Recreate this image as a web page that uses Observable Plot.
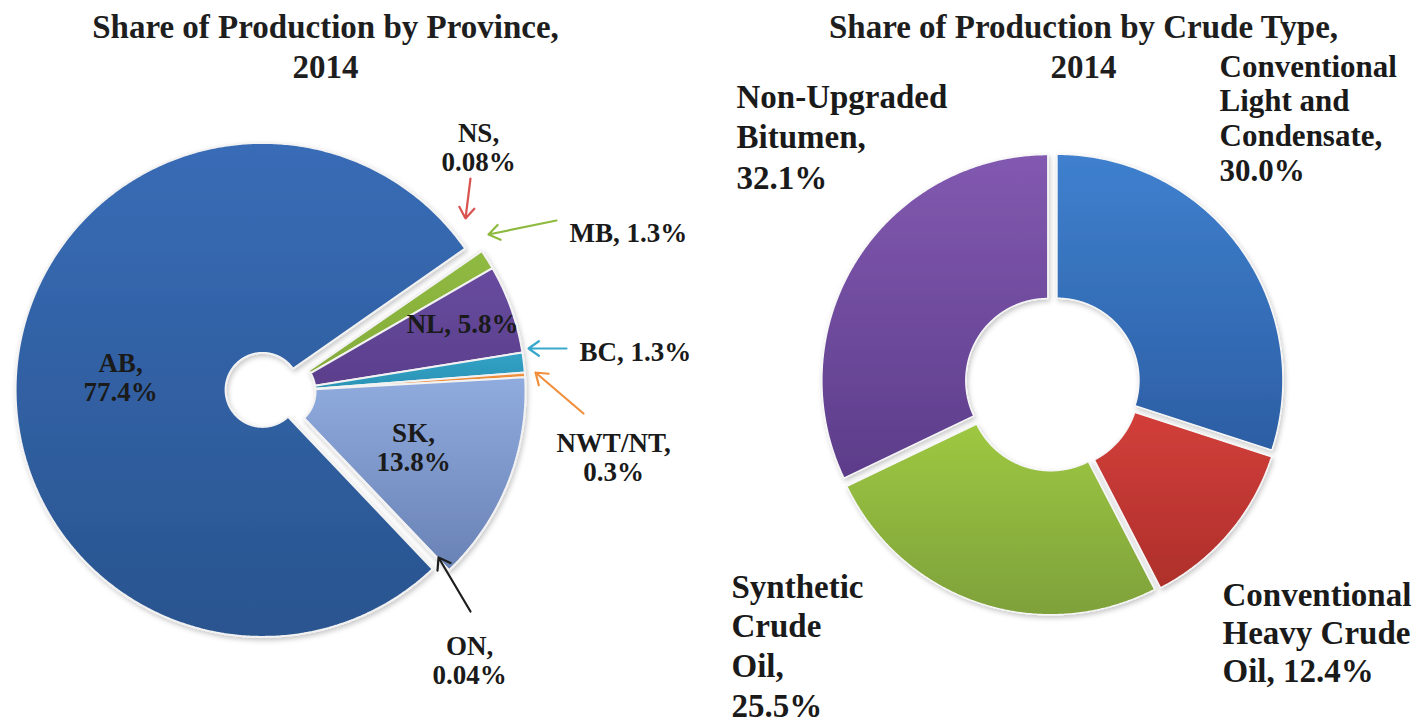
<!DOCTYPE html>
<html>
<head>
<meta charset="utf-8">
<script src="https://cdn.jsdelivr.net/npm/d3@7"></script>
<script src="https://cdn.jsdelivr.net/npm/@observablehq/plot@0.6"></script>
<style>
  body { margin: 0; background: #fff; }
  #chart svg { display: block; }
</style>
</head>
<body>
<div id="chart"></div>
<script>
// ---------------- DATA ----------------
const titles = ["Share of Production by Province,\n2014", "Share of Production by Crude Type,\n2014"];

const provinces = ["AB", "NS", "MB", "NL", "BC", "NWT/NT", "SK", "ON"];
const provinceShares = [77.4, 0.08, 1.3, 5.8, 1.3, 0.3, 13.8, 0.04];
const provinceShareLabels = ["77.4%", "0.08%", "1.3%", "5.8%", "1.3%", "0.3%", "13.8%", "0.04%"];

const crudeTypes = ["Conventional Light and Condensate", "Conventional Heavy Crude Oil", "Synthetic Crude Oil", "Non-Upgraded Bitumen"];
const crudeShares = [30.0, 12.4, 25.5, 32.1];
const crudeShareLabels = ["30.0%", "12.4%", "25.5%", "32.1%"];

// ---------------- LAYOUT / STYLE ----------------
const W = 1417, H = 724;
const FONT = "'Liberation Serif', 'Times New Roman', serif";

const leftPie = {cx: 278, cy: 391, R: 247, r: 37, start: 136.5, explode: [16, 0, 0, 0, 0, 0, 0, 0]};
const rightPie = {cx: 1052, cy: 383, R: 226, r: 82, start: 0, explode: [5.5, 5.5, 5.5, 5.5]};

const provinceColors = [
  ["#386cb6", "#29548f"], ["#c0504d", "#c0504d"], ["#8fba40", "#86ad3b"], ["#684b9f", "#5b3f8c"],
  ["#31a2c6", "#2b93b5"], ["#f0903d", "#e8852f"], ["#90abde", "#6982b6"], ["#444444", "#444444"]
];
const crudeColors = [["#3f80ce", "#2c5ea4"], ["#d23f3a", "#ae2f2b"], ["#9ec842", "#7ea13a"], ["#8259b0", "#5c3d8a"]];

// label layout: word-wrap of the name, separator before the value, anchor, position of last baseline
const provinceLabelLayout = [
  {wrap: [1], sep: "\n", x: 120, y: 400, anchor: "middle"},
  {wrap: [1], sep: "\n", x: 478, y: 170, anchor: "middle"},
  {wrap: [1], sep: " ", x: 569, y: 241, anchor: "start"},
  {wrap: [1], sep: " ", x: 462, y: 332, anchor: "middle"},
  {wrap: [1], sep: " ", x: 579, y: 360, anchor: "start"},
  {wrap: [1], sep: "\n", x: 613, y: 480, anchor: "middle"},
  {wrap: [1], sep: "\n", x: 413, y: 470, anchor: "middle"},
  {wrap: [1], sep: "\n", x: 469, y: 683, anchor: "middle"}
];
const crudeLabelLayout = [
  {wrap: [1, 2, 1], sep: "\n", x: 1219, y: 180, size: 31, lh: 1.115},
  {wrap: [1, 2, 1], sep: " ", x: 1222, y: 681, size: 33, lh: 1.15},
  {wrap: [1, 1, 1], sep: "\n", x: 731, y: 716, size: 33, lh: 1.2},
  {wrap: [1, 1], sep: "\n", x: 736, y: 188, size: 33, lh: 1.22}
];
const titleLayout = [{x: 325, y: 77}, {x: 1083, y: 77}];

// callout arrows (tail -> tip) for the thin slices
const calloutLayout = [
  {name: "NS", x1: 470, y1: 178, x2: 465, y2: 218, color: "#d9534f"},
  {name: "MB", x1: 556, y1: 220, x2: 488, y2: 234, color: "#8fba40"},
  {name: "BC", x1: 566, y1: 348, x2: 528, y2: 348, color: "#3aa8cc"},
  {name: "NWT/NT", x1: 583, y1: 413, x2: 535, y2: 372, color: "#f0903d"},
  {name: "ON", x1: 470, y1: 611, x2: 438, y2: 557, color: "#1e1e1e"}
];

// ---------------- GEOMETRY FROM DATA ----------------
const rad = d => d * Math.PI / 180;
function computeSlices(names, values, cfg, prefix) {
  const total = d3.sum(values);
  let a = rad(cfg.start);
  return names.map((name, i) => {
    const a0 = a, a1 = a + values[i] / total * 2 * Math.PI;
    a = a1;
    const mid = (a0 + a1) / 2;
    const e = cfg.explode[i] || 0;
    return {name, id: `${prefix}${i}`, a0, a1, mid,
      ox: cfg.cx + e * Math.sin(mid), oy: cfg.cy - e * Math.cos(mid), R: cfg.R, r: cfg.r};
  });
}
function slicePoints(slices) {
  const pts = [];
  for (const s of slices) {
    const n = Math.max(2, Math.ceil((s.a1 - s.a0) / rad(0.5)));
    const fill = `url(#${s.id})`;
    for (let k = 0; k <= n; k++) {
      const t = s.a0 + (s.a1 - s.a0) * k / n;
      pts.push({key: s.id, fill, x: s.ox + s.R * Math.sin(t), y: s.oy - s.R * Math.cos(t)});
    }
    for (let k = n; k >= 0; k--) {
      const t = s.a0 + (s.a1 - s.a0) * k / n;
      pts.push({key: s.id, fill, x: s.ox + s.r * Math.sin(t), y: s.oy - s.r * Math.cos(t)});
    }
  }
  return pts;
}
function wrapName(name, wrap) {
  const words = name.split(" ");
  const lines = [];
  let i = 0;
  for (const n of wrap) { lines.push(words.slice(i, i + n).join(" ")); i += n; }
  return lines.join("\n");
}

const leftSlices = computeSlices(provinces, provinceShares, leftPie, "gp");
const rightSlices = computeSlices(crudeTypes, crudeShares, rightPie, "gc");

const provinceLabels = provinces.map((p, i) => ({
  text: wrapName(p, provinceLabelLayout[i].wrap) + "," + provinceLabelLayout[i].sep + provinceShareLabels[i],
  ...provinceLabelLayout[i]
}));
const crudeLabels = crudeTypes.map((c, i) => ({
  text: wrapName(c, crudeLabelLayout[i].wrap) + "," + crudeLabelLayout[i].sep + crudeShareLabels[i],
  ...crudeLabelLayout[i]
}));
const titleData = titles.map((t, i) => ({text: t, ...titleLayout[i]}));

// ---------------- PLOT ----------------
const textCommon = {x: "x", y: "y", text: "text", fontFamily: FONT, fontWeight: "bold", lineAnchor: "bottom", fill: "#1a1a1a"};

const svg = Plot.plot({
  width: W, height: H, margin: 0,
  x: {domain: [0, W], range: [0, W], axis: null},
  y: {domain: [0, H], range: [0, H], axis: null},
  color: {type: "identity"},
  style: {background: "#ffffff", overflow: "visible"},
  marks: [
    Plot.line(slicePoints(leftSlices), {x: "x", y: "y", z: "key", fill: "fill", stroke: "#f2f2f2", strokeWidth: 2, strokeLinejoin: "miter", curve: "linear-closed", sort: null}),
    Plot.line(slicePoints(rightSlices), {x: "x", y: "y", z: "key", fill: "fill", stroke: "#f6f6f6", strokeWidth: 1.5, strokeLinejoin: "miter", curve: "linear-closed", sort: null}),
    Plot.arrow(calloutLayout, {x1: "x1", y1: "y1", x2: "x2", y2: "y2", stroke: "color", strokeWidth: 2.2, headLength: 9, headAngle: 70}),
    Plot.text(titleData, {...textCommon, fontSize: 33, lineHeight: 1.21, textAnchor: "middle", fill: "#1e1e1e"}),
    Plot.text(provinceLabels.filter(d => d.anchor === "middle"), {...textCommon, fontSize: 27, lineHeight: 1.06, textAnchor: "middle"}),
    Plot.text(provinceLabels.filter(d => d.anchor === "start"), {...textCommon, fontSize: 27, lineHeight: 1.06, textAnchor: "start"}),
    ...crudeLabels.map(d => Plot.text([d], {...textCommon, fontSize: d.size, lineHeight: d.lh, textAnchor: "start"}))
  ]
});

// gradients + soft shadow for the slices
const defs = d3.select(svg).insert("defs", ":first-child");
function addGrad(id, [c0, c1]) {
  const g = defs.append("linearGradient").attr("id", id).attr("x1", 0).attr("y1", 0).attr("x2", 0).attr("y2", 1);
  g.append("stop").attr("offset", "0%").attr("stop-color", c0);
  g.append("stop").attr("offset", "100%").attr("stop-color", c1);
}
leftSlices.forEach((s, i) => addGrad(s.id, provinceColors[i]));
rightSlices.forEach((s, i) => addGrad(s.id, crudeColors[i]));
const f = defs.append("filter").attr("id", "softShadow").attr("x", "-10%").attr("y", "-10%").attr("width", "125%").attr("height", "125%");
f.append("feDropShadow").attr("dx", 1.5).attr("dy", 2.5).attr("stdDeviation", 2.5).attr("flood-color", "#000").attr("flood-opacity", 0.22);
d3.select(svg).selectAll('g[aria-label="line"]').attr("filter", "url(#softShadow)");

document.getElementById("chart").appendChild(svg);
</script>
</body>
</html>
